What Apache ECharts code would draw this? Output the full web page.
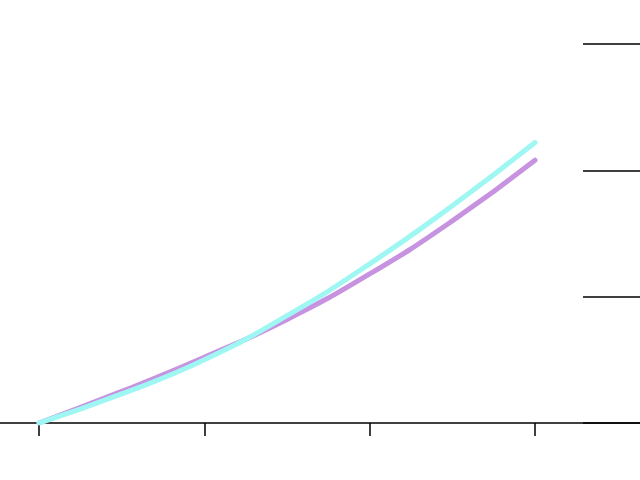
<!DOCTYPE html>
<html><head><meta charset="utf-8">
<script src="https://cdn.jsdelivr.net/npm/echarts@6/dist/echarts.min.js"></script>
<style>html,body{margin:0;padding:0;background:#fff}#c{width:640px;height:480px}</style>
</head><body><div id="c"></div>
<script>
var xValues = [0, 0.5, 1, 1.5, 2, 2.5, 3];
var purpleValues = [0, 0.25, 0.52, 0.82, 1.18, 1.60, 2.08];
var cyanValues = [0, 0.23, 0.50, 0.85, 1.26, 1.72, 2.22];
var xTicks = [0, 1, 2, 3];
var yTicks = [0, 1, 2, 3];

function pairs(xs, ys){ return xs.map(function(x,i){ return [x, ys[i]]; }); }

var chart = echarts.init(document.getElementById('c'), null, {renderer:'canvas'});
chart.setOption({
  animation:false,
  grid:{left:0,right:0,top:44,bottom:57},
  xAxis:{type:'value',min:-0.236,max:3.635,
    axisLine:{show:true,onZero:false,lineStyle:{color:'#000',width:1.5}},
    axisTick:{show:true,length:13,lineStyle:{color:'#000',width:1.5},customValues:xTicks},
    axisLabel:{show:false},splitLine:{show:false}},
  yAxis:{type:'value',position:'right',min:0,max:3,
    axisLine:{show:false,onZero:false},
    axisTick:{show:true,inside:true,length:57,lineStyle:{color:'#000',width:1.5},customValues:yTicks},
    axisLabel:{show:false},splitLine:{show:false}},
  series:[
    {type:'line',smooth:true,showSymbol:false,data:pairs(xValues,purpleValues),
     lineStyle:{color:'#c792df',width:5,cap:'round'}},
    {type:'line',smooth:true,showSymbol:false,data:pairs(xValues,cyanValues),
     lineStyle:{color:'#9ef7f2',width:5,cap:'round'}}
  ]
});
</script></body></html>
